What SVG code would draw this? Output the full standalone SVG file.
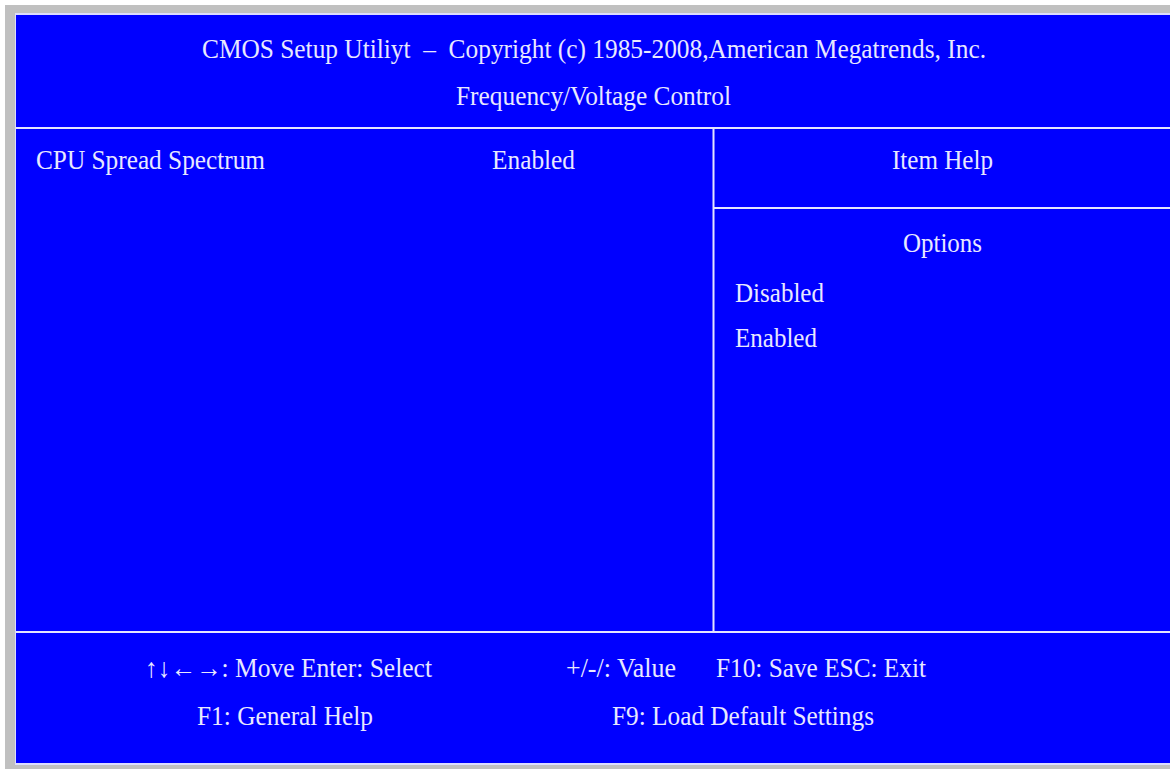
<svg xmlns="http://www.w3.org/2000/svg" width="1170" height="769" viewBox="0 0 1170 769">
<style>
.t{font-family:"Liberation Serif","Times New Roman",serif;font-size:27px;fill:#e8e8ff;white-space:pre}
.ln{stroke:#e4e4ff;stroke-width:2;fill:none}
</style>
<rect x="0" y="0" width="1170" height="769" fill="#ffffff"/>
<rect x="5" y="5" width="1165" height="764" fill="#c0c0c0"/>
<rect x="15" y="13" width="1155" height="752" fill="#dcdcff"/>
<rect x="16" y="15" width="1154" height="748" fill="#0000ff"/>
<g id="connectors">
<line class="ln" x1="16" y1="128" x2="1170" y2="128"/>
<line class="ln" x1="713.5" y1="128" x2="713.5" y2="632"/>
<line class="ln" x1="713" y1="208" x2="1170" y2="208"/>
<line class="ln" x1="16" y1="632" x2="1170" y2="632"/>
</g>
<g id="header">
<text class="t" x="202" y="58" textLength="784" lengthAdjust="spacingAndGlyphs" xml:space="preserve">CMOS Setup Utiliyt  –  Copyright (c) 1985-2008,American Megatrends, Inc.</text>
<text class="t" x="456" y="105" textLength="275" lengthAdjust="spacingAndGlyphs">Frequency/Voltage Control</text>
</g>
<g id="item">
<text class="t" x="36" y="169" textLength="229" lengthAdjust="spacingAndGlyphs">CPU Spread Spectrum</text>
<text class="t" x="492" y="169" textLength="83" lengthAdjust="spacingAndGlyphs">Enabled</text>
</g>
<g id="help">
<text class="t" x="892" y="169" textLength="101" lengthAdjust="spacingAndGlyphs">Item Help</text>
<text class="t" x="903" y="252" textLength="79" lengthAdjust="spacingAndGlyphs">Options</text>
<text class="t" x="735" y="302" textLength="89" lengthAdjust="spacingAndGlyphs">Disabled</text>
<text class="t" x="735" y="347" textLength="82" lengthAdjust="spacingAndGlyphs">Enabled</text>
</g>
<g id="footer">
<text class="t" x="145" y="677" textLength="287" lengthAdjust="spacingAndGlyphs">↑↓←→: Move Enter: Select</text>
<text class="t" x="566" y="677" textLength="110" lengthAdjust="spacingAndGlyphs">+/-/: Value</text>
<text class="t" x="716" y="677" textLength="210" lengthAdjust="spacingAndGlyphs">F10: Save ESC: Exit</text>
<text class="t" x="197" y="725" textLength="176" lengthAdjust="spacingAndGlyphs">F1: General Help</text>
<text class="t" x="612" y="725" textLength="262" lengthAdjust="spacingAndGlyphs">F9: Load Default Settings</text>
</g>
</svg>
